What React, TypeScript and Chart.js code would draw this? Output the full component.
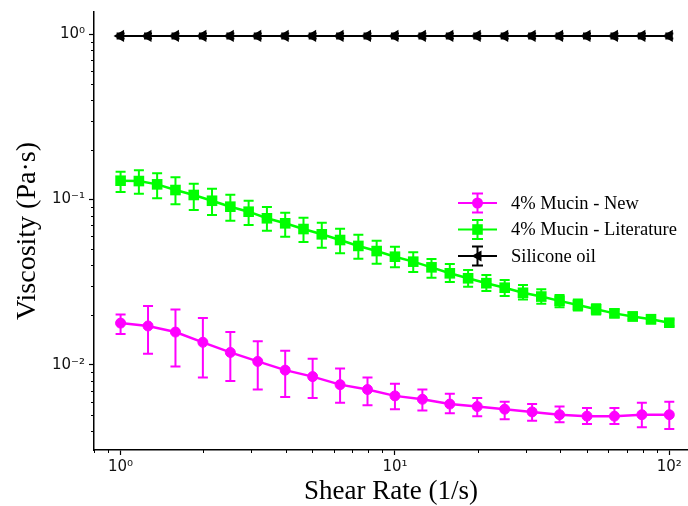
import React, { useEffect, useRef } from 'react';
import { Chart, registerables } from 'chart.js';

Chart.register(...registerables);

// Shear rates (1/s)
const rateNew = [1, 1.259, 1.585, 1.995, 2.512, 3.162, 3.981, 5.012, 6.31, 7.943, 10, 12.59, 15.85, 19.95, 25.12, 31.62, 39.81, 50.12, 63.1, 79.43, 100];
const rateLit = [1, 1.166, 1.359, 1.585, 1.848, 2.154, 2.512, 2.929, 3.415, 3.981, 4.642, 5.412, 6.31, 7.356, 8.577, 10, 11.66, 13.59, 15.85, 18.48, 21.54, 25.12, 29.29, 34.15, 39.81, 46.42, 54.12, 63.1, 73.56, 85.77, 100];
const rateOil = [1, 1.259, 1.585, 1.995, 2.512, 3.162, 3.981, 5.012, 6.31, 7.943, 10, 12.59, 15.85, 19.95, 25.12, 31.62, 39.81, 50.12, 63.1, 79.43, 100];

// 4% Mucin - New
const mucinNew = [0.0179, 0.0172, 0.0158, 0.0137, 0.0119, 0.0105, 0.0093, 0.0085, 0.0076, 0.0071, 0.0065, 0.0062, 0.0058, 0.0056, 0.0054, 0.0052, 0.005, 0.0049, 0.0049, 0.005, 0.005];
const mucinNewHi = [0.0202, 0.0227, 0.0216, 0.0192, 0.0158, 0.0139, 0.0122, 0.0109, 0.0095, 0.0084, 0.0077, 0.0071, 0.0067, 0.0063, 0.006, 0.0058, 0.0056, 0.0055, 0.0055, 0.0059, 0.006];
const mucinNewLo = [0.0154, 0.0117, 0.0098, 0.0084, 0.008, 0.0071, 0.0064, 0.0063, 0.0059, 0.0057, 0.0054, 0.0053, 0.0051, 0.0049, 0.0047, 0.0046, 0.0045, 0.0044, 0.0044, 0.0042, 0.0041];

// 4% Mucin - Literature
const mucinLit = [0.1299, 0.1293, 0.1235, 0.1141, 0.1065, 0.0983, 0.0905, 0.0844, 0.077, 0.0718, 0.0663, 0.0616, 0.0569, 0.0524, 0.0488, 0.0451, 0.0421, 0.0389, 0.0358, 0.0334, 0.0312, 0.0293, 0.0273, 0.0259, 0.0244, 0.023, 0.0217, 0.0205, 0.0196, 0.0189, 0.018];
const mucinLitHi = [0.1472, 0.1501, 0.144, 0.1362, 0.1246, 0.1162, 0.1069, 0.0983, 0.0901, 0.0832, 0.0776, 0.0724, 0.0666, 0.0613, 0.0564, 0.0519, 0.048, 0.0437, 0.0408, 0.0375, 0.035, 0.0326, 0.0304, 0.0287, 0.0265, 0.0249, 0.0233, 0.0217, 0.0208, 0.0196, 0.0188];
const mucinLitLo = [0.111, 0.1084, 0.1017, 0.0935, 0.0864, 0.0806, 0.0744, 0.0701, 0.0648, 0.0596, 0.0553, 0.0511, 0.0473, 0.0439, 0.0409, 0.0389, 0.0365, 0.0337, 0.0317, 0.0297, 0.028, 0.0261, 0.0249, 0.0234, 0.0223, 0.0213, 0.0202, 0.0194, 0.0188, 0.0178, 0.0172];

// Silicone oil
const oil = [0.975, 0.975, 0.975, 0.975, 0.975, 0.975, 0.975, 0.975, 0.975, 0.975, 0.975, 0.975, 0.975, 0.975, 0.975, 0.975, 0.975, 0.975, 0.975, 0.975, 0.975];
const oilHi = [1.01, 1.01, 1.01, 1.01, 1.01, 1.01, 1.01, 1.01, 1.01, 1.01, 1.01, 1.01, 1.01, 1.01, 1.01, 1.01, 1.01, 1.01, 1.01, 1.01, 1.01];
const oilLo = [0.94, 0.94, 0.94, 0.94, 0.94, 0.94, 0.94, 0.94, 0.94, 0.94, 0.94, 0.94, 0.94, 0.94, 0.94, 0.94, 0.94, 0.94, 0.94, 0.94, 0.94];

const xMajor = [1, 10, 100];
const yMajor = [0.01, 0.1, 1];
const xMinor = [0.8, 0.9, 2, 3, 4, 5, 6, 7, 8, 9, 20, 30, 40, 50, 60, 70, 80, 90];
const yMinor = [0.004, 0.005, 0.006, 0.007, 0.008, 0.009, 0.02, 0.03, 0.04, 0.05, 0.06, 0.07, 0.08, 0.09, 0.2, 0.3, 0.4, 0.5, 0.6, 0.7, 0.8, 0.9];
const supLabels: Record<string, string> = { '-2': '10⁻²', '-1': '10⁻¹', '0': '10⁰', '1': '10¹', '2': '10²' };

const legendLabels = ['4% Mucin - New', '4% Mucin - Literature', 'Silicone oil'];

const MAGENTA = '#ff00ff';
const GREEN = '#00ff00';
const BLACK = '#000000';

function pts(xs: number[], ys: number[]) {
  return xs.map((x, i) => ({ x, y: ys[i] }));
}

function drawMarker(ctx: CanvasRenderingContext2D, style: string, x: number, y: number, color: string) {
  ctx.save();
  ctx.fillStyle = color;
  ctx.beginPath();
  if (style === 'circle') {
    ctx.arc(x, y, 5.5, 0, Math.PI * 2);
  } else if (style === 'rect') {
    ctx.rect(x - 5.3, y - 5.3, 10.6, 10.6);
  } else {
    ctx.moveTo(x - 6, y);
    ctx.lineTo(x + 4, y - 5.5);
    ctx.lineTo(x + 4, y + 5.5);
    ctx.closePath();
  }
  ctx.fill();
  ctx.restore();
}

const errorBarPlugin = {
  id: 'errorBars',
  beforeDatasetsDraw(chart: any) {
    const { ctx } = chart;
    const xs = chart.scales.x;
    const ys = chart.scales.y;
    chart.data.datasets.forEach((ds: any) => {
      ctx.save();
      ctx.strokeStyle = ds.borderColor;
      ctx.lineWidth = ds.errWidth;
      ds.data.forEach((p: any, j: number) => {
        const px = xs.getPixelForValue(p.x);
        const top = ys.getPixelForValue(ds.errHi[j]);
        const bot = ys.getPixelForValue(ds.errLo[j]);
        const c = ds.capHalf;
        ctx.beginPath();
        ctx.moveTo(px, top);
        ctx.lineTo(px, bot);
        ctx.moveTo(px - c, top);
        ctx.lineTo(px + c, top);
        ctx.moveTo(px - c, bot);
        ctx.lineTo(px + c, bot);
        ctx.stroke();
      });
      ctx.restore();
    });
  },
};

const minorTickPlugin = {
  id: 'minorTicks',
  afterDraw(chart: any) {
    const { ctx, chartArea } = chart;
    const xs = chart.scales.x;
    const ys = chart.scales.y;
    ctx.save();
    ctx.strokeStyle = '#000';
    ctx.lineWidth = 1;
    ctx.beginPath();
    xMinor.forEach((v) => {
      const px = Math.round(xs.getPixelForValue(v)) + 0.5;
      ctx.moveTo(px, chartArea.bottom);
      ctx.lineTo(px, chartArea.bottom + 3);
    });
    yMinor.forEach((v) => {
      const py = Math.round(ys.getPixelForValue(v)) + 0.5;
      ctx.moveTo(chartArea.left, py);
      ctx.lineTo(chartArea.left - 3, py);
    });
    ctx.stroke();
    ctx.restore();
  },
};

const legendPlugin = {
  id: 'customLegend',
  afterDraw(chart: any) {
    const { ctx } = chart;
    const x0 = 458;
    const x1 = 497;
    const xc = (x0 + x1) / 2;
    const rowY = [203, 229.5, 256];
    chart.data.datasets.forEach((ds: any, i: number) => {
      const y = rowY[i];
      ctx.save();
      ctx.strokeStyle = ds.borderColor;
      ctx.lineWidth = 2;
      ctx.beginPath();
      ctx.moveTo(x0, y);
      ctx.lineTo(x1, y);
      ctx.moveTo(xc, y - 9.5);
      ctx.lineTo(xc, y + 9.5);
      ctx.moveTo(xc - 5.5, y - 9.5);
      ctx.lineTo(xc + 5.5, y - 9.5);
      ctx.moveTo(xc - 5.5, y + 9.5);
      ctx.lineTo(xc + 5.5, y + 9.5);
      ctx.stroke();
      ctx.restore();
      drawMarker(ctx, ds.legendMarker, xc, y, ds.borderColor);
      ctx.save();
      ctx.fillStyle = '#000';
      ctx.font = '18.5px "Liberation Serif"';
      ctx.textAlign = 'left';
      ctx.textBaseline = 'middle';
      ctx.fillText(legendLabels[i], 511, y + 1);
      ctx.restore();
    });
  },
};

export default function App() {
  const ref = useRef<HTMLCanvasElement>(null);

  useEffect(() => {
    if (!ref.current) return;
    const chart = new Chart(ref.current, {
      type: 'line',
      data: {
        datasets: [
          {
            label: legendLabels[0],
            data: pts(rateNew, mucinNew),
            borderColor: MAGENTA,
            backgroundColor: MAGENTA,
            borderWidth: 2.5,
            pointStyle: 'circle',
            pointRadius: 5,
            pointBorderWidth: 1,
            pointBackgroundColor: MAGENTA,
            pointBorderColor: MAGENTA,
            errHi: mucinNewHi,
            errLo: mucinNewLo,
            capHalf: 5,
            errWidth: 2,
            legendMarker: 'circle',
          } as any,
          {
            label: legendLabels[1],
            data: pts(rateLit, mucinLit),
            borderColor: GREEN,
            backgroundColor: GREEN,
            borderWidth: 2.5,
            pointStyle: 'rect',
            pointRadius: 7.5,
            pointBorderWidth: 0,
            pointBackgroundColor: GREEN,
            errHi: mucinLitHi,
            errLo: mucinLitLo,
            capHalf: 5,
            errWidth: 2,
            legendMarker: 'rect',
          } as any,
          {
            label: legendLabels[2],
            data: pts(rateOil, oil),
            borderColor: BLACK,
            backgroundColor: BLACK,
            borderWidth: 2,
            pointStyle: 'triangle',
            rotation: -90,
            pointRadius: 7,
            pointBorderWidth: 0,
            pointBackgroundColor: BLACK,
            errHi: oilHi,
            errLo: oilLo,
            capHalf: 4,
            errWidth: 2,
            legendMarker: 'triangle',
          } as any,
        ],
      },
      options: {
        animation: false,
        responsive: false,
        maintainAspectRatio: false,
        layout: { autoPadding: false, padding: { top: 12, left: 0, right: 0, bottom: 0 } },
        plugins: {
          legend: { display: false },
          tooltip: { enabled: false },
        },
        elements: { line: { tension: 0 } },
        scales: {
          x: {
            type: 'logarithmic',
            min: 0.8,
            max: 117,
            afterBuildTicks: (s: any) => {
              s.ticks = xMajor.map((v) => ({ value: v }));
            },
            afterFit: (s: any) => {
              s.height = 56;
              s.paddingLeft = 0;
              s.paddingRight = 0;
            },
            ticks: {
              autoSkip: false,
              maxRotation: 0,
              padding: 3,
              color: '#111',
              font: { family: 'DejaVu Sans', size: 15 },
              callback: (v: any) => supLabels[String(Math.round(Math.log10(Number(v))))] || '',
            },
            grid: { drawOnChartArea: false, drawTicks: true, tickLength: 5, tickColor: '#000', tickWidth: 1.2 },
            border: { display: true, color: '#000', width: 1.5 },
            title: {
              display: true,
              text: 'Shear Rate (1/s)',
              color: '#000',
              font: { family: 'Liberation Serif', size: 27, lineHeight: 1 },
              padding: { top: 0, bottom: 1 },
            },
          },
          y: {
            type: 'logarithmic',
            min: 0.00306,
            max: 1.36,
            afterBuildTicks: (s: any) => {
              s.ticks = yMajor.map((v) => ({ value: v }));
            },
            afterFit: (s: any) => {
              s.width = 94;
              s.paddingTop = 0;
              s.paddingBottom = 0;
            },
            ticks: {
              autoSkip: false,
              padding: 4,
              color: '#111',
              font: { family: 'DejaVu Sans', size: 15 },
              callback: (v: any) => supLabels[String(Math.round(Math.log10(Number(v))))] || '',
            },
            grid: { drawOnChartArea: false, drawTicks: true, tickLength: 5, tickColor: '#000', tickWidth: 1.2 },
            border: { display: true, color: '#000', width: 1.5 },
            title: {
              display: true,
              text: 'Viscosity (Pa·s)',
              color: '#000',
              font: { family: 'Liberation Serif', size: 28, lineHeight: 1 },
              padding: { top: 14, bottom: 0 },
            },
          },
        },
      } as any,
      plugins: [errorBarPlugin, minorTickPlugin, legendPlugin],
    });
    return () => chart.destroy();
  }, []);

  return (
    <div style={{ position: 'fixed', left: 0, top: 0, width: 688, height: 506, background: '#fff' }}>
      <canvas ref={ref} width={688} height={506} style={{ width: 688, height: 506, display: 'block' }} />
    </div>
  );
}
